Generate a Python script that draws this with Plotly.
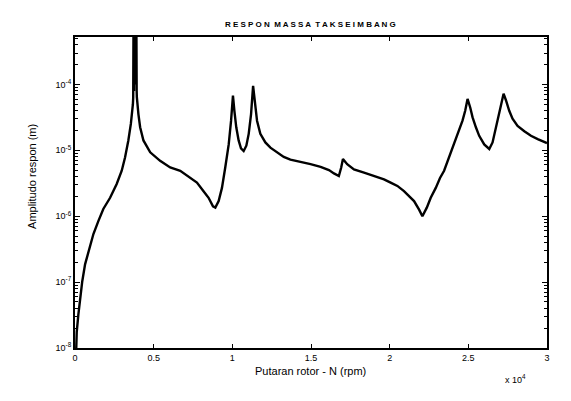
import plotly.graph_objects as go

# rotor speed (x 10^4 rpm)
speed = [0.008, 0.011, 0.021, 0.032, 0.046, 0.064, 0.085, 0.117, 0.149, 0.180,
         0.223, 0.265, 0.297, 0.318, 0.339, 0.355, 0.368,
         0.370, 0.372, 0.375, 0.378, 0.381, 0.384, 0.387, 0.390, 0.392, 0.393,
         0.403, 0.414, 0.435, 0.478, 0.541, 0.605, 0.669, 0.732, 0.775, 0.817,
         0.849, 0.877, 0.892, 0.913, 0.934, 0.955, 0.977, 0.992, 1.004,
         1.013, 1.025, 1.040, 1.055, 1.072, 1.089, 1.104, 1.119, 1.132,
         1.145, 1.157, 1.178, 1.210, 1.242, 1.285, 1.327, 1.369, 1.433, 1.497,
         1.561, 1.614, 1.646, 1.677, 1.692, 1.703, 1.730, 1.773, 1.837, 1.900,
         1.964, 2.006, 2.049, 2.091, 2.123, 2.155, 2.187, 2.208, 2.236, 2.261,
         2.293, 2.320, 2.346, 2.378, 2.410, 2.442, 2.463, 2.480, 2.495,
         2.512, 2.527, 2.548, 2.569, 2.601, 2.633, 2.654, 2.675, 2.696, 2.707, 2.724,
         2.739, 2.760, 2.781, 2.813, 2.856, 2.898, 2.941, 3.000]
# log10 of response amplitude (m)
log_amp = [-8.00, -7.76, -7.50, -7.26, -6.99, -6.73, -6.53, -6.27, -6.07, -5.89,
           -5.72, -5.51, -5.31, -5.11, -4.85, -4.60, -4.30,
           -4.20, -3.00, -4.10, -3.00, -4.00, -3.00, -4.00, -3.00, -4.10, -4.19,
           -4.45, -4.65, -4.85, -5.03, -5.16, -5.26, -5.31, -5.42, -5.49, -5.62,
           -5.72, -5.85, -5.87, -5.77, -5.57, -5.26, -4.91, -4.55, -4.17,
           -4.40, -4.65, -4.85, -4.97, -5.01, -4.93, -4.75, -4.45, -4.02,
           -4.29, -4.55, -4.75, -4.88, -4.96, -5.03, -5.10, -5.14, -5.17, -5.21,
           -5.25, -5.30, -5.35, -5.39, -5.26, -5.13, -5.21, -5.29, -5.34, -5.39,
           -5.44, -5.49, -5.54, -5.62, -5.69, -5.77, -5.90, -6.00, -5.87, -5.72,
           -5.57, -5.42, -5.31, -5.11, -4.91, -4.70, -4.55, -4.40, -4.22,
           -4.35, -4.50, -4.65, -4.78, -4.91, -4.98, -4.88, -4.65, -4.45, -4.29, -4.14,
           -4.24, -4.40, -4.52, -4.63, -4.71, -4.78, -4.83, -4.89]
amp = [10 ** v for v in log_amp]

x_ticks = [0, 0.5, 1, 1.5, 2, 2.5, 3]
x_ticktext = ["0", "0.5", "1", "1.5", "2", "2.5", "3"]
y_ticks = [1e-8, 1e-7, 1e-6, 1e-5, 1e-4]
y_ticktext = ["10<sup>-8</sup>", "10<sup>-7</sup>", "10<sup>-6</sup>", "10<sup>-5</sup>", "10<sup>-4</sup>"]
y_minor = [m * 10 ** e for e in range(-8, -3) for m in range(2, 10)]

FAM = "Liberation Sans, Arial, sans-serif"

fig = go.Figure()
fig.add_trace(go.Scatter(x=speed, y=amp, mode="lines",
                         line=dict(color="black", width=2.4), showlegend=False))

tickfont = dict(family=FAM, size=9, color="black")
fig.update_layout(
    width=571, height=401,
    margin=dict(l=75, r=24, t=37, b=53),
    paper_bgcolor="white", plot_bgcolor="white",
    font=tickfont,
    xaxis=dict(range=[0, 3], tickvals=x_ticks, ticktext=x_ticktext,
               showgrid=False, zeroline=False, showline=True, linecolor="black",
               linewidth=2, mirror="ticks", ticks="inside", ticklen=4,
               tickcolor="black", tickfont=tickfont),
    yaxis=dict(type="log", range=[-8, -3.28], tickvals=y_ticks, ticktext=y_ticktext,
               showgrid=False, zeroline=False, showline=True, linecolor="black",
               linewidth=2, mirror="ticks", ticks="inside", ticklen=5,
               tickcolor="black", tickfont=tickfont,
               minor=dict(tickvals=y_minor, ticks="inside", ticklen=3,
                          tickcolor="black", showgrid=False)),
    annotations=[
        dict(text="<b>R E S P O N  M A S S A  T A K S E I M B A N G</b>", x=0.498, y=1.0,
             xref="paper", yref="paper", yanchor="bottom", yshift=6, showarrow=False,
             font=dict(family=FAM, size=8, color="black")),
        dict(text="Putaran rotor - N (rpm)", x=0.498, y=0, xref="paper", yref="paper",
             yanchor="top", yshift=-15, showarrow=False,
             font=dict(family=FAM, size=11, color="black")),
        dict(text="Amplitudo respon (m)", x=0, y=0.55, xref="paper", yref="paper",
             xanchor="center", xshift=-43, textangle=-90, showarrow=False,
             font=dict(family=FAM, size=11, color="black")),
        dict(text="x 10<sup>4</sup>", x=0.96, y=0, xref="paper", yref="paper",
             yanchor="top", yshift=-23, showarrow=False,
             font=dict(family=FAM, size=9, color="black")),
    ],
)

fig.write_html("out.html")
